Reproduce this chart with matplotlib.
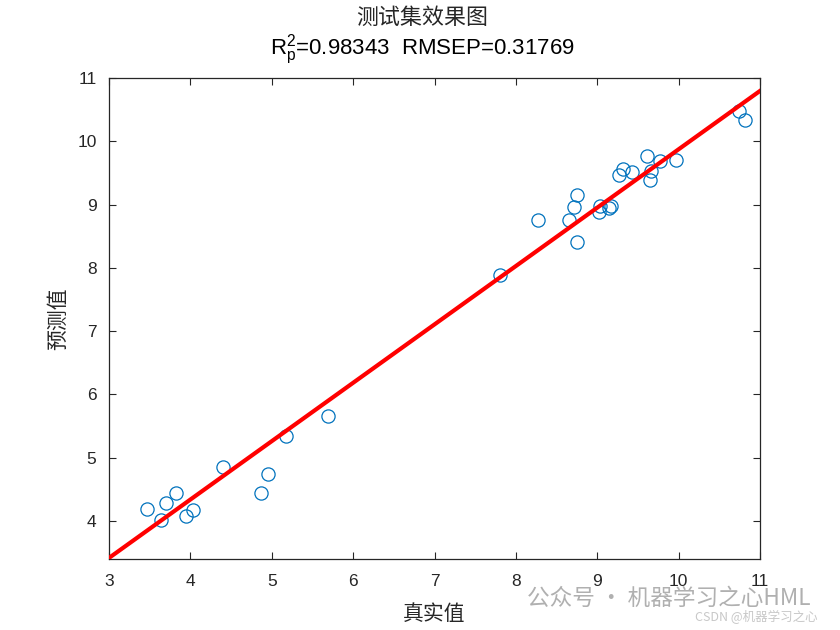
import numpy as np
import matplotlib
matplotlib.use("Agg")
from matplotlib import pyplot as plt

plt.rcParams['font.family'] = ['Liberation Sans', 'Noto Sans CJK SC', 'DejaVu Sans']

# test set: true vs predicted values
y_true = [3.47, 3.64, 3.70, 3.82, 3.95, 4.03, 4.40, 4.87, 4.95, 5.17, 5.69,
          7.80, 8.27, 8.65, 8.71, 8.75, 8.75, 9.02, 9.03, 9.14, 9.17,
          9.27, 9.32, 9.43, 9.61, 9.65, 9.66, 9.77, 9.97, 10.74, 10.81]
y_pred = [4.19, 4.02, 4.28, 4.44, 4.08, 4.17, 4.85, 4.44, 4.74, 5.34, 5.66,
          7.89, 8.76, 8.76, 8.96, 9.15, 8.41, 8.88, 8.98, 8.94, 8.98,
          9.47, 9.56, 9.51, 9.77, 9.39, 9.53, 9.69, 9.70, 10.48, 10.34]

# fitted line y = a*x + b
fit_a = 0.9224
fit_b = 0.650

xticks = [3, 4, 5, 6, 7, 8, 9, 10, 11]
yticks = [4, 5, 6, 7, 8, 9, 10, 11]

title_cn = "测试集效果图"
title_stats = r"R$_\mathregular{p}^\mathregular{2}$=0.98343  RMSEP=0.31769"

axcol = '#262626'

fig = plt.figure(figsize=(8.4, 6.3), dpi=100)
ax = fig.add_axes([0.1298, 0.1127, 0.775, 0.7635])

ax.plot(y_true, y_pred, 'o', mfc='none', mec='#0072BD', ms=9.5, mew=0.9, zorder=3)
xl = np.array([3, 11])
ax.plot(xl, fit_a * xl + fit_b, '-', color='#FF0000', lw=3, zorder=4)

ax.set_xlim(3, 11)
ax.set_ylim(3.4, 11)
ax.set_xticks(xticks)
ax.set_yticks(yticks)
ax.tick_params(direction='in', length=5, width=0.8, colors=axcol, labelsize=12.5,
               top=True, right=True)
ax.tick_params(axis='x', pad=11)
ax.tick_params(axis='y', pad=9)
for s in ax.spines.values():
    s.set_color(axcol)
    s.set_linewidth(0.9)

ax.set_xlabel("真实值", fontsize=15, color=axcol, family=['Noto Sans CJK SC'], labelpad=10)
ax.set_ylabel("预测值", fontsize=15, color=axcol, family=['Noto Sans CJK SC'], labelpad=6)

fig.text(0.5 + 2 / 840, 1 - 18 / 630, title_cn, ha='center', va='center', fontsize=15.8,
         color=axcol, family=['Noto Sans CJK SC'])
fig.text(0.5 + 2 / 840, 1 - 50 / 630, title_stats, ha='center', va='center', fontsize=16,
         color='black')

# watermark
fig.text(0.627, 1 - 598 / 630, "公众号 · 机器学习之心HML", ha='left', va='center',
         fontsize=16.3, color='#b0b0b0', family=['Noto Sans CJK SC', 'DejaVu Sans'], zorder=0)
fig.text(0.973, 1 - 617 / 630, "CSDN @机器学习之心", ha='right', va='center',
         fontsize=9, color='#c8c8c8', family=['Noto Sans CJK SC', 'DejaVu Sans'], zorder=0)

fig.savefig("out.png", dpi=100)
